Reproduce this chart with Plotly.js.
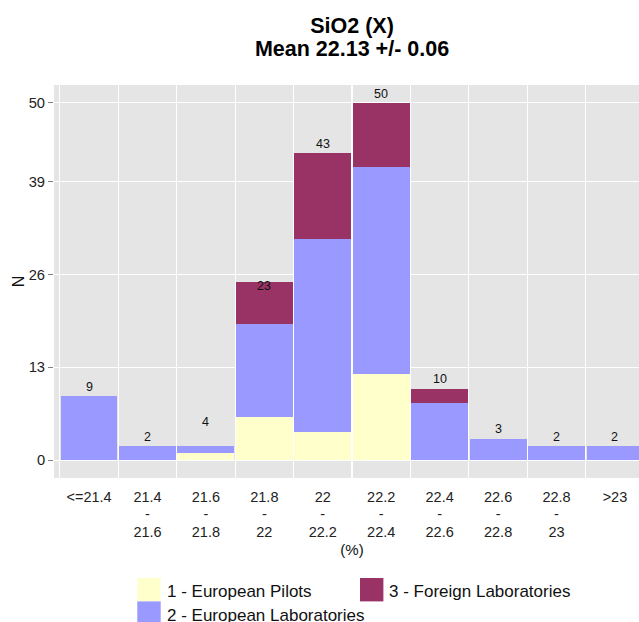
<!DOCTYPE html>
<html>
<head>
<meta charset="utf-8">
<script src="https://cdn.plot.ly/plotly-3.0.1.min.js"></script>
<style>
html, body { margin: 0; padding: 0; overflow: hidden; background: #fff; }
#chart { width: 660px; height: 622px; }
</style>
</head>
<body>
<div id="chart"></div>
<script>
// ---- data ----
var categories = ['<=21.4', '21.4 - 21.6', '21.6 - 21.8', '21.8 - 22', '22 - 22.2',
                  '22.2 - 22.4', '22.4 - 22.6', '22.6 - 22.8', '22.8 - 23', '>23'];
var pilots  = [0, 0, 1, 6, 4, 12, 0, 0, 0, 0];
var labs    = [9, 2, 1, 13, 27, 29, 8, 3, 2, 2];
var foreign = [0, 0, 0, 6, 12, 9, 2, 0, 0, 0];
var totalLabels = [9, 2, 4, 23, 43, 50, 10, 3, 2, 2];
var seriesNames = ['1 - European Pilots', '2 - European Laboratories', '3 - Foreign Laboratories'];
var seriesColors = ['#FFFFCC', '#9999FF', '#993366'];
var yTicks = [0, 13, 26, 39, 50];
var titleLines = ['SiO2 (X)', 'Mean 22.13 +/- 0.06'];
var xTitle = '(%)';
var yTitle = 'N';

// ---- helpers ----
function esc(s) { return s.replace(/</g, '&lt;').replace(/>/g, '&gt;'); }
var tickText = categories.map(function (c) {
  var parts = c.split(' - ');
  var out = parts.map(function (p) { return '<span style="font-size:14.5px">' + esc(p) + '</span>'; });
  return out.join('<br><span style="font-size:14.5px">-</span><br>');
});

var W = 660, H = 622;
var M = { l: 54, r: 10, t: 85, b: 144 };
var PW = W - M.l - M.r, PH = H - M.t - M.b;
function px(x) { return (x - M.l) / PW; }
function py(y) { return (M.t + PH - y) / PH; }

var seriesValues = [pilots, labs, foreign];
var traces = seriesValues.map(function (vals, i) {
  return {
    type: 'bar',
    name: seriesNames[i],
    x: categories,
    y: vals,
    width: 0.973,
    marker: { color: seriesColors[i], line: { width: 0 } },
    hoverinfo: 'x+y+name',
    showlegend: false
  };
});

var annotations = categories.map(function (c, i) {
  return {
    x: c, y: totalLabels[i], xref: 'x', yref: 'y',
    text: String(totalLabels[i]), showarrow: false,
    yanchor: 'middle', yshift: 9.3,
    font: { family: 'Liberation Sans, Arial, sans-serif', size: 12.5, color: '#111' }
  };
});

var shapes = [];
var SW = 23.4;
seriesNames.forEach(function (name, i) {
  var col = Math.floor(i / 2), row = i % 2;
  var x0 = col === 0 ? 137.3 : 360;
  var y0 = 578 + row * SW;
  shapes.push({
    type: 'rect', xref: 'paper', yref: 'paper',
    x0: px(x0), x1: px(x0 + SW), y0: py(y0), y1: py(y0 + SW),
    fillcolor: seriesColors[i], line: { width: 0 }, layer: 'above'
  });
  annotations.push({
    xref: 'paper', yref: 'paper', x: px(x0 + SW + 4), y: py(y0 + SW / 2 + 2),
    xanchor: 'left', yanchor: 'middle', showarrow: false, text: name,
    font: { family: 'Liberation Sans, Arial, sans-serif', size: 17, color: '#111' }
  });
});

var layout = {
  width: W, height: H,
  margin: M,
  paper_bgcolor: '#ffffff',
  plot_bgcolor: '#E5E5E5',
  barmode: 'stack',
  bargap: 0,
  font: { family: 'Liberation Sans, Arial, sans-serif', color: '#222' },
  title: {
    text: titleLines.map(function (t) { return '<span style="font-size:21.5px">' + t + '</span>'; }).join('<br>'),
    font: { size: 17.7, weight: 700, color: '#000', family: 'Liberation Sans, Arial, sans-serif' },
    x: 0.5, xref: 'paper', xanchor: 'center',
    y: 1 - 33 / H, yref: 'container', yanchor: 'top'
  },
  xaxis: {
    type: 'category',
    tickmode: 'array', tickvals: categories, ticktext: tickText,
    tickson: 'boundaries', ticks: '', ticklen: 0,
    ticklabelstandoff: 10,
    showgrid: true, gridcolor: '#ffffff', gridwidth: 1.2,
    range: [-0.6, 9.6], zeroline: false, showline: false,
    tickfont: { size: 13.2, color: '#222' },
    tickangle: 0,
    title: { text: xTitle, font: { size: 15, color: '#111' }, standoff: 5 },
    automargin: false, fixedrange: true
  },
  yaxis: {
    range: [-2.5, 52.5],
    tickmode: 'array', tickvals: yTicks, ticktext: yTicks.map(String),
    ticks: 'outside', ticklen: 5, tickcolor: '#7F7F7F', tickwidth: 1,
    showgrid: true, gridcolor: '#ffffff', gridwidth: 1.2,
    zeroline: false, showline: false,
    tickfont: { size: 14.7, color: '#222' },
    title: { text: yTitle, font: { size: 16, color: '#111' }, standoff: 0 },
    automargin: false, fixedrange: true
  },
  annotations: annotations,
  shapes: shapes,
  showlegend: false
};

Plotly.newPlot('chart', traces, layout, { displayModeBar: false, staticPlot: true });
</script>
</body>
</html>
